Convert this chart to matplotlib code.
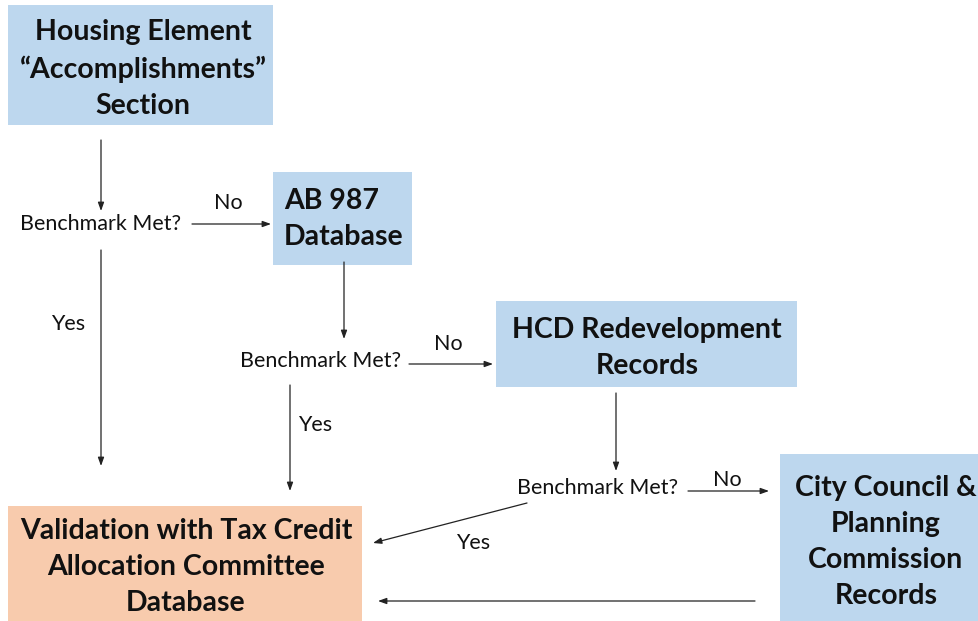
import matplotlib.pyplot as plt
from matplotlib.patches import Rectangle

# Nodes (labels) and their colours
box_labels = [
    "Housing Element\n\u201cAccomplishments\u201d\nSection",
    "AB 987\nDatabase",
    "HCD Redevelopment\nRecords",
    "City Council &\nPlanning\nCommission\nRecords",
    "Validation with Tax Credit\nAllocation Committee\nDatabase",
]
box_colors = ["#BDD7EE", "#BDD7EE", "#BDD7EE", "#BDD7EE", "#F8CBAD"]
decision_label = "Benchmark Met?"
edge_labels = ["No", "No", "No", "Yes", "Yes", "Yes"]

# Layout in pixels (x0, y0, x1, y1), y measured from top
box_rects = [(8, 5, 273, 125), (273, 172, 412, 265), (496, 301, 797, 387),
             (780, 454, 990, 630), (8, 506, 362, 630)]
text_pos = [(143, 69, "center"), (284, 219, "left"), (647, 348, "center"),
            (886, 542, "center"), (186, 567, "center")]
decision_pos = [(101, 224), (321, 361), (598, 488)]
edge_label_pos = [(228, 203), (448, 344), (727, 480), (68, 324), (315, 425), (473, 543)]
arrows = [((101, 140), (101, 211)), ((192, 224), (271, 224)), ((101, 250), (101, 466)),
          ((344, 262), (344, 339)), ((409, 364), (493, 364)), ((290, 385), (290, 491)),
          ((616, 393), (616, 471)), ((688, 491), (769, 491)), ((527, 503), (373, 543)),
          ((755, 601), (378, 601))]

fig = plt.figure(figsize=(9.79, 6.21), dpi=100)
ax = fig.add_axes([0, 0, 1, 1])
ax.set_xlim(0, 979)
ax.set_ylim(621, 0)
ax.axis("off")

for (x0, y0, x1, y1), c in zip(box_rects, box_colors):
    ax.add_patch(Rectangle((x0, y0), x1 - x0, y1 - y0, facecolor=c, edgecolor="none"))

for lab, (x, y, ha) in zip(box_labels, text_pos):
    ax.text(x, y, lab, ha=ha, va="center", fontsize=20.5, fontweight="bold",
            family="Lato", linespacing=1.47, color="#111111", multialignment=ha)

for (x, y) in decision_pos:
    ax.text(x, y, decision_label, ha="center", va="center", fontsize=15.5,
            family="Lato", color="#111111")

for lab, (x, y) in zip(edge_labels, edge_label_pos):
    ax.text(x, y, lab, ha="center", va="center", fontsize=15.5, family="Lato",
            color="#111111")

for start, end in arrows:
    ax.annotate("", xy=end, xytext=start,
                arrowprops=dict(arrowstyle="-|>,head_length=0.5,head_width=0.18",
                                color="#222222", lw=0.9, shrinkA=0, shrinkB=0))

plt.savefig("out.png", dpi=100)
